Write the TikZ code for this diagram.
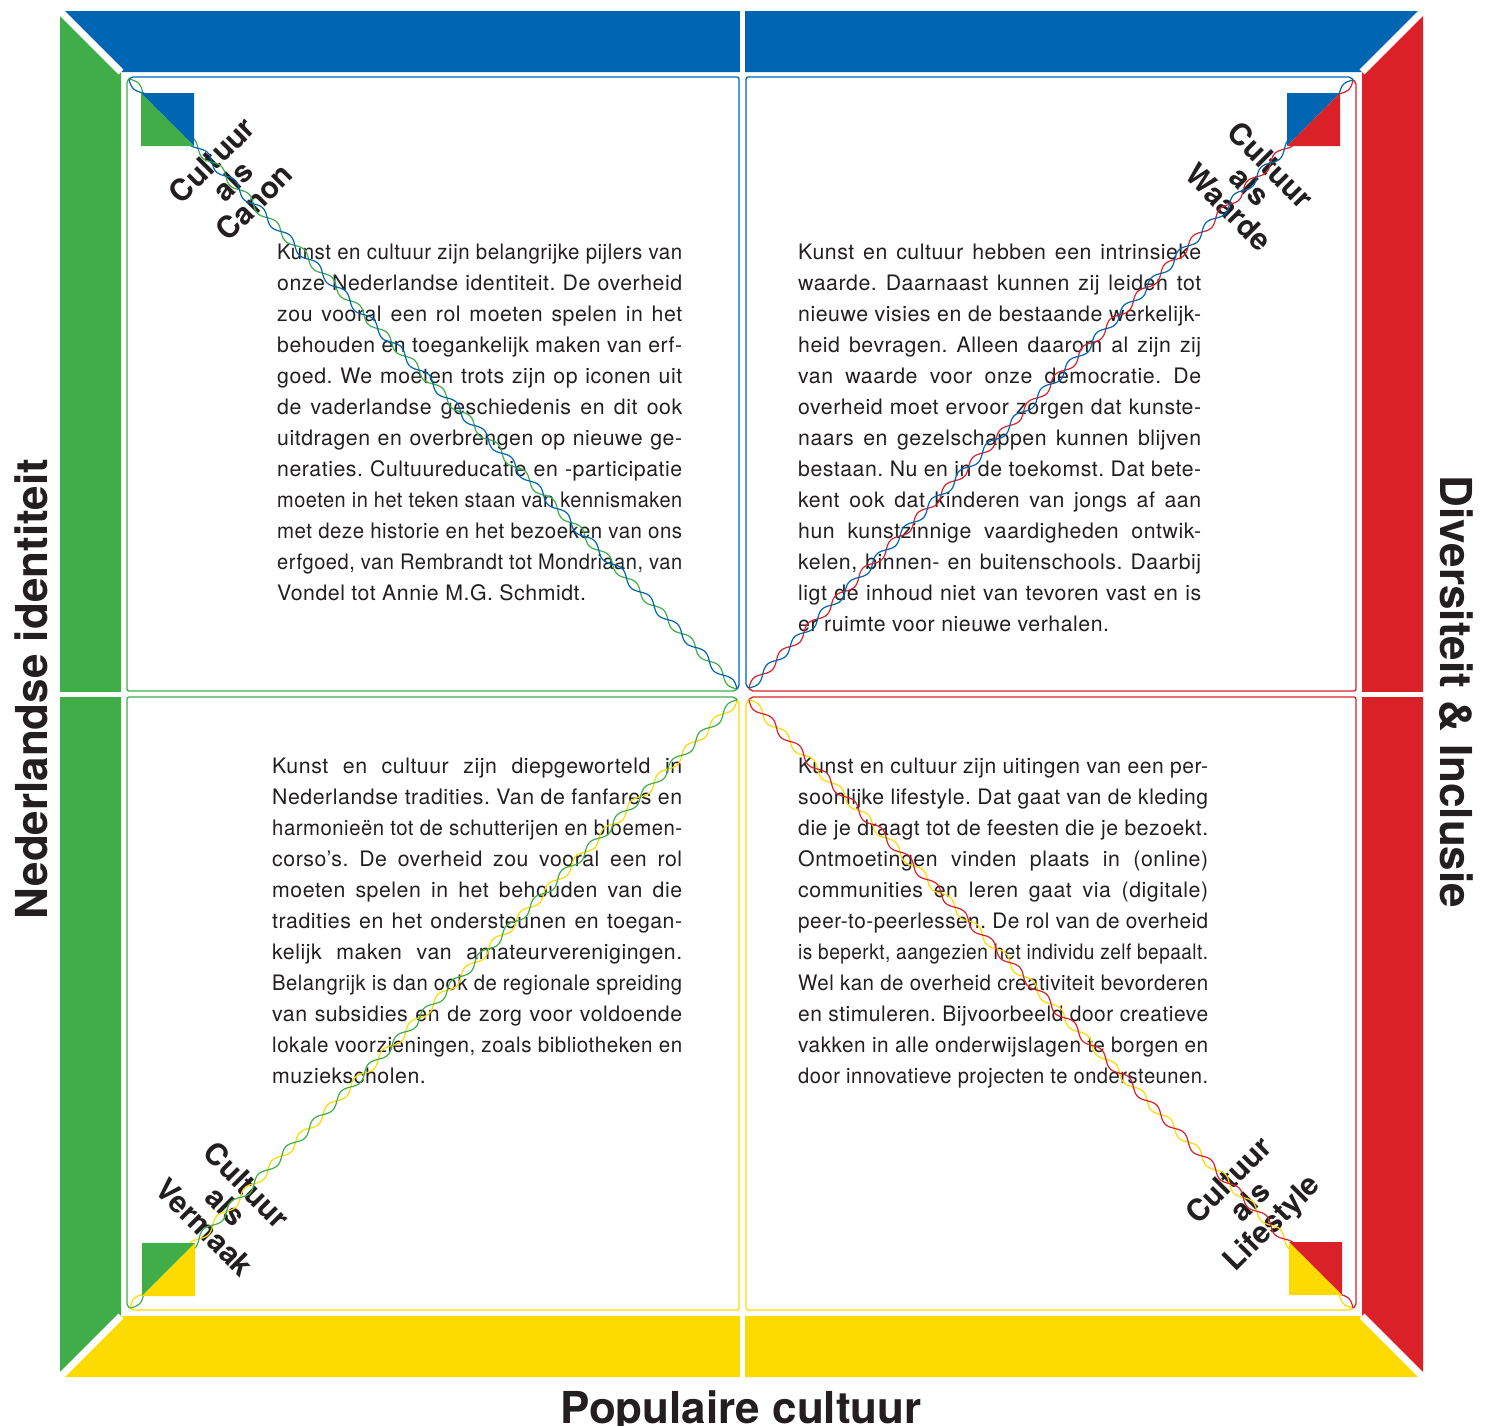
\documentclass[tikz,border=0pt]{standalone}
\usepackage{fontspec}
\setmainfont{TeX Gyre Heros}
\newfontfamily\bodyfam{TeX Gyre Heros}[LetterSpace=2.5]
\usepackage{graphicx}
\definecolor{cblue}{HTML}{0066B3}
\definecolor{cgreen}{HTML}{3FAE49}
\definecolor{cred}{HTML}{DA2128}
\definecolor{cyellow}{HTML}{FDDA00}
\definecolor{ctext}{HTML}{231F20}
\newlength\lnw
\newcommand\jl[2]{\settowidth\lnw{#2}\ifdim\lnw>#1\relax\hbox{\resizebox{#1}{\height}{#2}}\else\hbox to #1{#2}\fi}
\newcommand\para[1]{\vtop{\baselineskip=31pt\lineskiplimit=-100pt\lineskip=0pt #1}}
\newcommand\bodyfont{\bodyfam\fontsize{21.3pt}{31pt}\selectfont\frenchspacing}
\newcommand\labfont{\fontsize{30pt}{30pt}\selectfont\bfseries}
\newcommand\sidefont{\fontsize{44pt}{44pt}\selectfont\bfseries}
\newcommand\strand[7]{%
  \draw[#1] plot[domain=0:1, samples=800, variable=\t]
   ({#2+\t*(#4-#2) - (#6)*sin(360*#7*\t)*(#5-#3)/veclen(#4-#2,#5-#3)},
    {#3+\t*(#5-#3) + (#6)*sin(360*#7*\t)*(#4-#2)/veclen(#4-#2,#5-#3)});}
\tikzset{
  boxline/.style={line width=1.3pt, rounded corners=2pt},
  strandline/.style={line width=1.2pt},
  gap/.style={white, line width=7pt},
  midgap/.style={white, line width=5pt},
  body/.style={anchor=base west, inner sep=0pt, font=\bodyfont, text=ctext},
  corner/.style={align=center, inner sep=0pt, font=\labfont, text=ctext},
  side/.style={anchor=base, inner sep=0pt, font=\sidefont, text=ctext}
}
\begin{document}
\begin{tikzpicture}[x=1pt, y=-1pt]
\useasboundingbox (0,0) rectangle (1491,1425);
% frame
\fill[cblue] (60,11) -- (1423,11) -- (1362,72) -- (121,72) -- cycle;
\fill[cgreen] (60,11) -- (121,72) -- (121,1316) -- (60,1377) -- cycle;
\fill[cred] (1423,11) -- (1423,1377) -- (1362,1316) -- (1362,72) -- cycle;
\fill[cyellow] (60,1377) -- (1423,1377) -- (1362,1316) -- (121,1316) -- cycle;
\draw[gap] (58,9) -- (121,72);
\draw[gap] (1425,9) -- (1362,72);
\draw[gap] (58,1379) -- (121,1316);
\draw[gap] (1425,1379) -- (1362,1316);
\draw[midgap] (742.5,5) -- (742.5,74);
\draw[midgap] (742.5,1314) -- (742.5,1383);
\draw[midgap] (54,694.5) -- (123,694.5);
\draw[midgap] (1360,694.5) -- (1429,694.5);
% box lines
\draw[boxline, cblue] (129,79) -- (131,77) -- (739,77) -- (739,687) -- (737,689);
\draw[boxline, cgreen] (129,79) -- (127,81) -- (127,691) -- (735,691) -- (737,689);
\draw[boxline, cblue] (1353,80) -- (1351,77) -- (746,77) -- (746,686) -- (749,688);
\draw[boxline, cred] (1353,80) -- (1356,82) -- (1356,691) -- (751,691) -- (749,688);
\draw[boxline, cgreen] (737,700) -- (735,697) -- (127,697) -- (127,1306) -- (130,1308);
\draw[boxline, cyellow] (737,700) -- (739,702) -- (739,1310) -- (132,1310) -- (130,1308);
\draw[boxline, cred] (749,700) -- (751,697) -- (1356,697) -- (1356,1306) -- (1353,1308);
\draw[boxline, cyellow] (749,700) -- (746,702) -- (746,1310) -- (1351,1310) -- (1353,1308);
% texts
\node[body] (tltext) at (277,259) {\para{%
\jl{405pt}{Kunst en cultuur zijn belangrijke pijlers van}
\jl{405pt}{onze Nederlandse identiteit. De overheid}
\jl{405pt}{zou vooral een rol moeten spelen in het}
\jl{405pt}{behouden en toegankelijk maken van erf-}
\jl{405pt}{goed. We moeten trots zijn op iconen uit}
\jl{405pt}{de vaderlandse geschiedenis en dit ook}
\jl{405pt}{uitdragen en overbrengen op nieuwe ge-}
\jl{405pt}{neraties. Cultuureducatie en -participatie}
\jl{405pt}{moeten in het teken staan van kennismaken}
\jl{405pt}{met deze historie en het bezoeken van ons}
\jl{405pt}{erfgoed, van Rembrandt tot Mondriaan, van}
\hbox{Vondel tot Annie M.G. Schmidt.}}};
\node[body] (trtext) at (798,259) {\para{%
\jl{403pt}{Kunst en cultuur hebben een intrinsieke}
\jl{403pt}{waarde. Daarnaast kunnen zij leiden tot}
\jl{403pt}{nieuwe visies en de bestaande werkelijk-}
\jl{403pt}{heid bevragen. Alleen daarom al zijn zij}
\jl{403pt}{van waarde voor onze democratie. De}
\jl{403pt}{overheid moet ervoor zorgen dat kunste-}
\jl{403pt}{naars en gezelschappen kunnen blijven}
\jl{403pt}{bestaan. Nu en in de toekomst. Dat bete-}
\jl{403pt}{kent ook dat kinderen van jongs af aan}
\jl{403pt}{hun kunstzinnige vaardigheden ontwik-}
\jl{403pt}{kelen, binnen- en buitenschools. Daarbij}
\jl{403pt}{ligt de inhoud niet van tevoren vast en is}
\hbox{er ruimte voor nieuwe verhalen.}}};
\node[body] (bltext) at (272,773) {\para{%
\jl{410pt}{Kunst en cultuur zijn diepgeworteld in}
\jl{410pt}{Nederlandse tradities. Van de fanfares en}
\jl{410pt}{harmonieën tot de schutterijen en bloemen-}
\jl{410pt}{corso’s. De overheid zou vooral een rol}
\jl{410pt}{moeten spelen in het behouden van die}
\jl{410pt}{tradities en het ondersteunen en toegan-}
\jl{410pt}{kelijk maken van amateurverenigingen.}
\jl{410pt}{Belangrijk is dan ook de regionale spreiding}
\jl{410pt}{van subsidies en de zorg voor voldoende}
\jl{410pt}{lokale voorzieningen, zoals bibliotheken en}
\hbox{muziekscholen.}}};
\node[body] (brtext) at (798,773) {\para{%
\jl{410pt}{Kunst en cultuur zijn uitingen van een per-}
\jl{410pt}{soonlijke lifestyle. Dat gaat van de kleding}
\jl{410pt}{die je draagt tot de feesten die je bezoekt.}
\jl{410pt}{Ontmoetingen vinden plaats in (online)}
\jl{410pt}{communities en leren gaat via (digitale)}
\jl{410pt}{peer-to-peerlessen. De rol van de overheid}
\jl{410pt}{is beperkt, aangezien het individu zelf bepaalt.}
\jl{410pt}{Wel kan de overheid creativiteit bevorderen}
\jl{410pt}{en stimuleren. Bijvoorbeeld door creatieve}
\jl{410pt}{vakken in alle onderwijslagen te borgen en}
\jl{410pt}{door innovatieve projecten te ondersteunen.}}};
% corner labels
\node[corner, rotate=45] (lcanon) at (233,181) {Cultuur\\als\\Canon};
\node[corner, rotate=-45] (lwaarde) at (1250,186) {Cultuur\\als\\Waarde};
\node[corner, rotate=-45] (lvermaak) at (226,1206) {Cultuur\\als\\Vermaak};
\node[corner, rotate=45] (llifestyle) at (1252,1203) {Cultuur\\als\\Lifestyle};
% helix strands
\strand{cgreen, strandline}{129}{79}{737}{689}{-3.7}{22}
\strand{cblue, strandline}{129}{79}{737}{689}{3.7}{22}
\strand{cred, strandline}{1353}{80}{749}{688}{-3.7}{22}
\strand{cblue, strandline}{1353}{80}{749}{688}{3.7}{22}
\strand{cyellow, strandline}{737}{700}{130}{1308}{-3.7}{22}
\strand{cgreen, strandline}{737}{700}{130}{1308}{3.7}{22}
\strand{cyellow, strandline}{749}{700}{1353}{1308}{-3.7}{22}
\strand{cred, strandline}{749}{700}{1353}{1308}{3.7}{22}
% corner squares
\fill[cblue] (141,93) -- (194,93) -- (194,146) -- cycle;
\fill[cgreen] (141,93) -- (141,146) -- (194,146) -- cycle;
\fill[cblue] (1287,93) -- (1340,93) -- (1287,146) -- cycle;
\fill[cred] (1340,93) -- (1340,146) -- (1287,146) -- cycle;
\fill[cgreen] (142,1243) -- (195,1243) -- (142,1296) -- cycle;
\fill[cyellow] (195,1243) -- (195,1296) -- (142,1296) -- cycle;
\fill[cred] (1289,1242) -- (1342,1242) -- (1342,1295) -- cycle;
\fill[cyellow] (1289,1242) -- (1289,1295) -- (1342,1295) -- cycle;
% side labels
\node[side, rotate=90] (lneder) at (47,689) {Nederlandse identiteit};
\node[side, rotate=-90] (ldivers) at (1440,692) {Diversiteit \& Inclusie};
\node[side] (lpop) at (741,1423) {Populaire cultuur};
\end{tikzpicture}
\end{document}
